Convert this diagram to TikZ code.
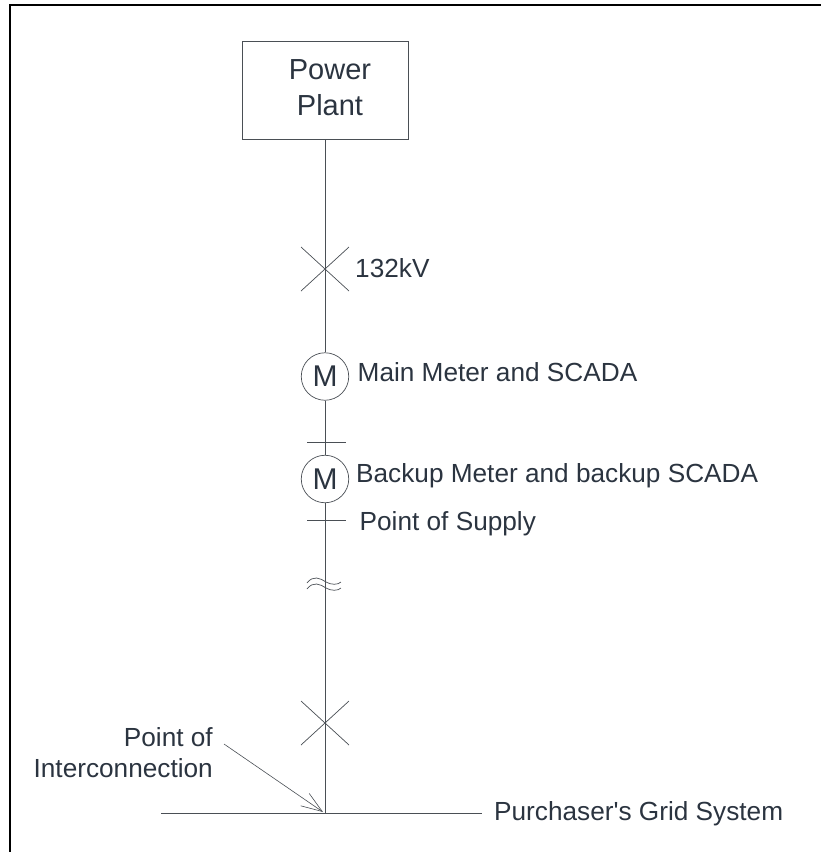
\documentclass[tikz,border=0pt]{standalone}
\usepackage{fontspec}
\setmainfont{Liberation Sans}
\usetikzlibrary{arrows.meta}
\definecolor{inktext}{HTML}{2B3440}
\definecolor{inkline}{HTML}{4A4F55}
\tikzstyle{label} = [inner sep=0pt, text=inktext, font=\fontsize{26.2pt}{31.5pt}\selectfont]
\tikzstyle{wire} = [draw=inkline, line width=0.9pt]
\tikzstyle{thinwire} = [draw=inkline, line width=0.7pt]
\tikzstyle{meter} = [thinwire, fill=white, circle, minimum size=47.5pt, inner sep=0pt, text=inktext, font=\fontsize{30pt}{30pt}\selectfont]
\tikzstyle{arrow} = [draw=inkline, line width=0.6pt, -{Straight Barb[length=21pt,width=15pt,line width=0.6pt]}]

\begin{document}
\begin{tikzpicture}[x=1pt, y=-1pt]
\useasboundingbox (0,0) rectangle (821,852);

% frame
\draw [line width=2.2pt] (10,852) -- (10,5) -- (821,5);

\node (power plant) [thinwire, minimum width=166pt, minimum height=97.5pt, inner sep=0pt, text=inktext, font=\fontsize{29pt}{36pt}\selectfont] at (325,90.5) {\hspace*{10pt}\raisebox{2pt}{\begin{tabular}{@{}c@{}}Power\\Plant\end{tabular}}};

\node (main meter) [meter] at (325,376.5) {M};
\node (backup meter) [meter] at (325,479) {M};

\coordinate (grid left) at (161,813);
\coordinate (grid right) at (482,813);
\coordinate (junction) at (325,813);
\coordinate (upper breaker) at (325,269);
\coordinate (lower breaker) at (325,723);

\draw [wire] (power plant.south) -- (main meter.north);
\draw [wire] (main meter.south) -- (backup meter.north);
\draw [wire] (backup meter.south) -- (junction);
\draw [wire] (grid left) -- (grid right);

% breakers
\foreach \pos in {upper breaker, lower breaker} {
  \draw [thinwire] ([shift={(-24,-22)}]\pos) -- ([shift={(24,22)}]\pos);
  \draw [thinwire] ([shift={(-24,22)}]\pos) -- ([shift={(24,-22)}]\pos);
}

% ticks either side of the backup meter
\draw [thinwire] (307,442) -- (346,442);
\draw [thinwire] (307,520) -- (346,520);

% break mark
\draw [thinwire] (307,583) .. controls (313,575) and (320,578) .. (326,582) .. controls (331,585) and (338,585) .. (341,582);
\draw [thinwire] (307,589) .. controls (313,581) and (320,584) .. (326,588) .. controls (331,591) and (338,591) .. (341,588);

\node (voltage) [label, anchor=base west] at (355,277) {132kV};
\node (main label) [label, anchor=base west] at (357.5,381.7) {Main Meter and SCADA};
\node (backup label) [label, anchor=base west] at (356,482.7) {Backup Meter and backup SCADA};
\node (supply label) [label, anchor=base west] at (359.5,530) {Point of Supply};
\node (interconnection) [label, anchor=east, align=right] at (213,752.5) {Point of\\Interconnection};
\node (grid label) [label, anchor=base west] at (494,820) {Purchaser\textquotesingle s Grid System};

\coordinate (arrow tail) at (224,744);
\coordinate (arrow head) at (323,812);
\draw [arrow] (arrow tail) -- (arrow head);
\end{tikzpicture}
\end{document}
